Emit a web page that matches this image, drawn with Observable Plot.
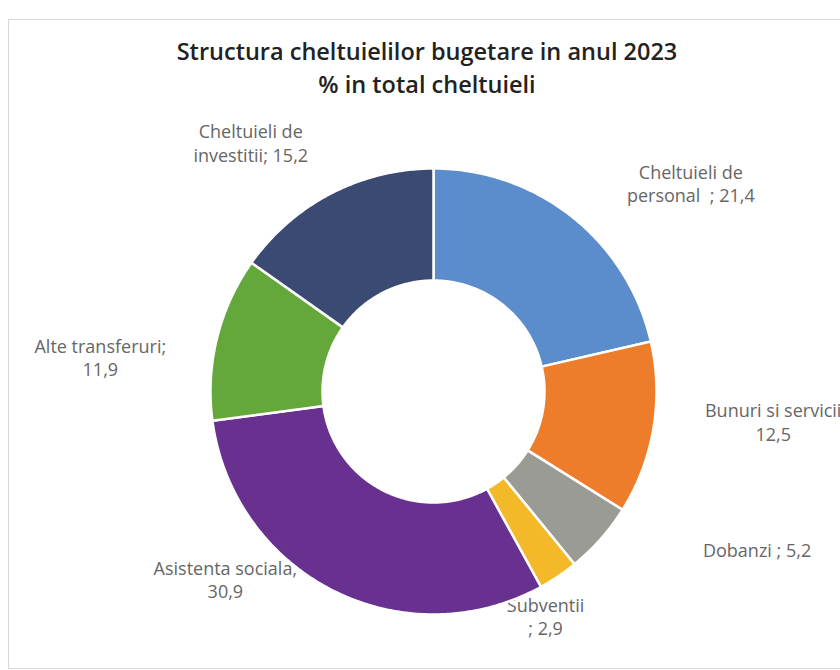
<!DOCTYPE html>
<html><head><meta charset="utf-8">
<script src="https://cdn.jsdelivr.net/npm/d3@7"></script>
<script src="https://cdn.jsdelivr.net/npm/@observablehq/plot@0.6"></script>
<style>
body{margin:0;background:#fff;width:840px;height:670px;overflow:hidden;position:relative;font-family:"Open Sans",sans-serif}
#frame{position:absolute;left:8px;top:19px;width:840px;height:648px;border:1px solid #d6d6d6;}
#title{position:absolute;left:0;top:35px;width:854px;text-align:center;font-size:23.5px;font-weight:600;color:#222;line-height:33px}
#chart{position:absolute;left:0;top:110px}
</style></head><body>
<div id="frame"></div>
<div id="title">Structura cheltuielilor bugetare in anul 2023<br>% in total cheltuieli</div>
<div id="chart"></div>
<script>
// Data
const categories = ["Cheltuieli de personal", "Bunuri si servicii", "Dobanzi", "Subventii", "Asistenta sociala", "Alte transferuri", "Cheltuieli de investitii"];
const values = [21.4, 12.5, 5.2, 2.9, 30.9, 11.9, 15.2];
const valueLabels = ["21,4", "12,5", "5,2", "2,9", "30,9", "11,9", "15,2"];
// how each data label is written / wrapped
const labelFormats = ["Cheltuieli de\npersonal  ; {v}", "Bunuri si servicii\n{v}", "Dobanzi ; {v}", "Subventii\n; {v}", "Asistenta sociala;\n{v}", "Alte transferuri;\n{v}", "Cheltuieli de\ninvestitii; {v}"];
const colors = ["#5b8ccb", "#ee7d2b", "#9b9b95", "#f4b928", "#68308f", "#64a83c", "#3b4a72"];

// Layout (not data)
const W = 840, H = 560, cx = 433, cy = 281, R = 223, r0 = 111;
const labelShiftDeg = [12.5, -4.5, -15.4, 7.5, 21.2, -7.9, -8.9];
const labelRadius = [331, 341, 360, 251, 280, 335, 309];

const pie = d3.pie().sort(null).startAngle(0).endAngle(2 * Math.PI)(values);
const pts = [];
pie.forEach((p, i) => {
  const n = Math.max(4, Math.ceil((p.endAngle - p.startAngle) / 0.01));
  for (let k = 0; k <= n; k++) {
    const a = p.startAngle + (p.endAngle - p.startAngle) * k / n;
    pts.push({name: categories[i], x: R * Math.sin(a), y: -R * Math.cos(a)});
  }
  for (let k = n; k >= 0; k--) {
    const a = p.startAngle + (p.endAngle - p.startAngle) * k / n;
    pts.push({name: categories[i], x: r0 * Math.sin(a), y: -r0 * Math.cos(a)});
  }
});
const labels = pie.map((p, i) => {
  const a = (p.startAngle + p.endAngle) / 2 + labelShiftDeg[i] * Math.PI / 180;
  return {x: labelRadius[i] * Math.sin(a), y: -labelRadius[i] * Math.cos(a), text: labelFormats[i].replace("{v}", valueLabels[i])};
});

const chart = Plot.plot({
  width: W, height: H, margin: 0,
  style: {fontFamily: "'Open Sans', sans-serif", background: "transparent", overflow: "visible"},
  x: {domain: [-cx, W - cx], axis: null},
  y: {domain: [-cy, H - cy], reverse: true, axis: null},
  color: {domain: categories, range: colors},
  marks: [
    Plot.text(labels, {x: "x", y: "y", text: "text", fill: "#666666", fontSize: 18, lineHeight: 1.3}),
    Plot.line(pts, {x: "x", y: "y", z: "name", fill: "name", stroke: "white", strokeWidth: 2.5, curve: "linear-closed"})
  ]
});
document.getElementById("chart").appendChild(chart);
</script>
</body></html>
